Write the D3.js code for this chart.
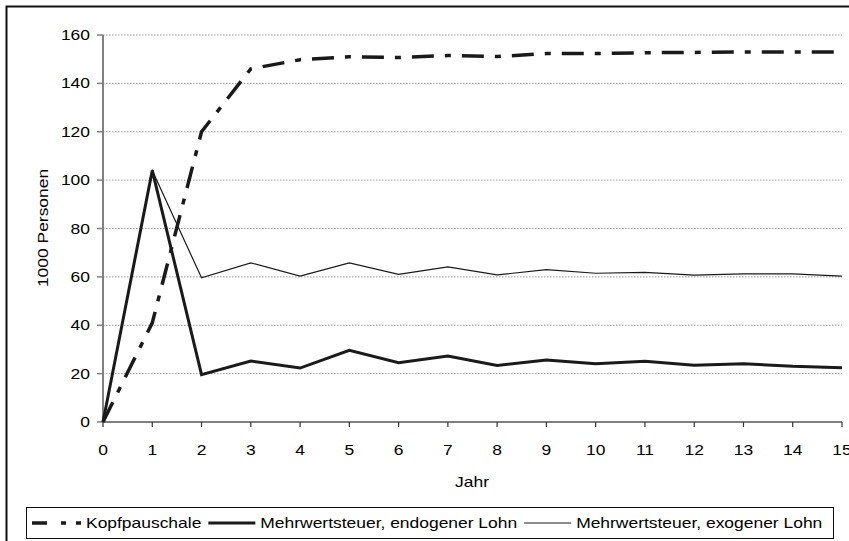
<!DOCTYPE html>
<html>
<head>
<meta charset="utf-8">
<script src="https://cdn.jsdelivr.net/npm/d3@7"></script>
<style>
body { margin: 0; background: #fff; }
text { font-family: 'Liberation Sans', Arial, sans-serif; fill: #000; }
</style>
</head>
<body>
<div id="chart"></div>
<script>
var years = [0,1,2,3,4,5,6,7,8,9,10,11,12,13,14,15]
var yTicks = [0,20,40,60,80,100,120,140,160]
var kopf = [0,41,120,146,149.8,151,150.7,151.5,151.1,152.3,152.3,152.7,152.8,153,153,153]
var endo = [0,104,19.6,25.2,22.3,29.6,24.5,27.3,23.4,25.6,24.1,25.1,23.5,24.1,23.0,22.4]
var exo  = [0,104,59.6,65.8,60.3,65.8,61.0,64.1,60.8,63.0,61.5,61.9,60.7,61.2,61.2,60.3]
var names = ['Kopfpauschale','Mehrwertsteuer, endogener Lohn','Mehrwertsteuer, exogener Lohn']

var W = 849, H = 541
var sx = 1.22   // the source font looks stretched along the text

var svg = d3.select('#chart').append('svg')
	.attr('width', W)
	.attr('height', H)

var x = d3.scaleLinear().domain([0,15]).range([103,842])
var y = d3.scaleLinear().domain([0,160]).range([422,35])

// outer frame (right and bottom fall outside the picture)
svg.append('rect')
	.attr('x',6.5).attr('y',6.5)
	.attr('width',W).attr('height',H)
	.attr('fill','none').attr('stroke','#111').attr('stroke-width',2)

// grid
svg.append('g').selectAll('line').data(yTicks.slice(1)).enter().append('line')
	.attr('x1',x(0)).attr('x2',x(15))
	.attr('y1',d=>y(d)).attr('y2',d=>y(d))
	.attr('stroke','#999').attr('stroke-width',1).attr('stroke-dasharray','1.5,1.5')

function label(g, tx, ty, str, anchor, rot){
	var t = g.append('g').attr('transform','translate('+tx+','+ty+')'+(rot?' rotate('+rot+')':'')+' scale('+sx+',1)')
	return t.append('text').attr('text-anchor',anchor).style('font-size','14.3px').text(str)
}

// y axis
var ya = svg.append('g')
ya.append('line').attr('x1',x(0)).attr('x2',x(0)).attr('y1',y(0)).attr('y2',y(160))
	.attr('stroke','#808080').attr('stroke-width',2)
yTicks.forEach(function(v){
	ya.append('line').attr('x1',x(0)-6).attr('x2',x(0)).attr('y1',y(v)).attr('y2',y(v))
		.attr('stroke','#808080').attr('stroke-width',1.5)
	label(ya, 90, y(v)+5, v, 'end')
})

// x axis
var xa = svg.append('g')
xa.append('line').attr('x1',x(0)).attr('x2',x(15)).attr('y1',y(0)).attr('y2',y(0))
	.attr('stroke','#808080').attr('stroke-width',2)
years.forEach(function(v){
	xa.append('line').attr('x1',x(v)).attr('x2',x(v)).attr('y1',y(0)).attr('y2',y(0)+5)
		.attr('stroke','#333').attr('stroke-width',1.2)
	label(xa, x(v), 455, v, 'middle')
})

label(svg, 472, 487, 'Jahr', 'middle')
label(svg, 48, 228, '1000 Personen', 'middle', -90)

// series
var line = d3.line().x((d,i)=>x(years[i])).y(d=>y(d))
var series = [
	{data: kopf, w: 3.5, dash: '22,11,6,11'},
	{data: endo, w: 3, dash: null},
	{data: exo,  w: 1.2, dash: null}
]
series.forEach(function(s){
	svg.append('path').datum(s.data)
		.attr('d',line)
		.attr('fill','none')
		.attr('stroke','#1a1a1a')
		.attr('stroke-width',s.w)
		.attr('stroke-linejoin','miter')
		.attr('stroke-dasharray',s.dash)
})

// legend
var lg = svg.append('g')
lg.append('rect').attr('x',26.5).attr('y',507.5).attr('width',807).attr('height',31)
	.attr('fill','#fff').attr('stroke','#111').attr('stroke-width',1)
var legendDash = ['15,14,5,10,5,10', null, null]
var cx = 32
names.forEach(function(n,i){
	lg.append('line').attr('x1',cx).attr('x2',cx+(i===0?49:47)).attr('y1',523).attr('y2',523)
		.attr('stroke','#1a1a1a').attr('stroke-width',series[i].w)
		.attr('stroke-dasharray',legendDash[i])
	cx += (i===0?49:47) + 5
	var t = label(lg, cx, 528, n, 'start')
	cx += t.node().getComputedTextLength()*sx + 7
})
</script>
</body>
</html>
